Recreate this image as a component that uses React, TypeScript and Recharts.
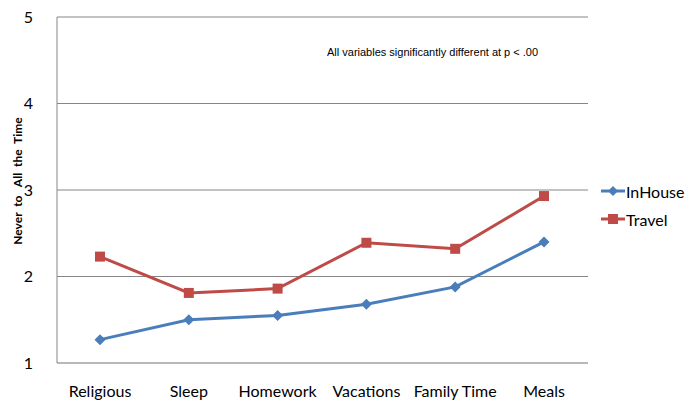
import { CartesianGrid, Label, Line, LineChart, XAxis, YAxis } from "recharts";

const categories = ["Religious", "Sleep", "Homework", "Vacations", "Family Time", "Meals"];
const inHouse = [1.27, 1.5, 1.55, 1.68, 1.88, 2.4];
const travel = [2.23, 1.81, 1.86, 2.39, 2.32, 2.93];
const yTicks = [1, 2, 3, 4, 5];

const BLUE = "#4a7ebb";
const RED = "#be4b48";

const data = categories.map((name, i) => ({ name, InHouse: inHouse[i], Travel: travel[i] }));

function Diamond(props: any) {
  const { cx, cy } = props;
  if (cx == null || cy == null) return null;
  return <path d={`M${cx},${cy - 5.5}L${cx + 5.5},${cy}L${cx},${cy + 5.5}L${cx - 5.5},${cy}Z`} fill={BLUE} />;
}

function Square(props: any) {
  const { cx, cy } = props;
  if (cx == null || cy == null) return null;
  return <rect x={cx - 5} y={cy - 5} width={10} height={10} fill={RED} />;
}

function LegendBox() {
  const items = [
    { name: "InHouse", color: BLUE, shape: "diamond" },
    { name: "Travel", color: RED, shape: "square" }
  ];
  return (
    <div style={{ fontFamily: "Lato, sans-serif", fontSize: 16, color: "#000" }}>
      {items.map((it) => (
        <div key={it.name} style={{ display: "flex", alignItems: "center", height: 28 }}>
          <svg width={24} height={14} style={{ marginRight: 1 }}>
            <line x1={0} y1={7} x2={24} y2={7} stroke={it.color} strokeWidth={3} />
            {it.shape === "diamond" ? (
              <path d="M12,2L17,7L12,12L7,7Z" fill={it.color} />
            ) : (
              <rect x={7} y={2} width={10} height={10} fill={it.color} />
            )}
          </svg>
          <span>{it.name}</span>
        </div>
      ))}
    </div>
  );
}

export default function App() {
  return (
    <div style={{ position: "absolute", left: 0, top: 0, width: 686, height: 400, background: "#fff" }}>
      <LineChart width={686} height={400} data={data} margin={{ top: 17, right: 98, left: 0, bottom: 0 }}>
        <CartesianGrid vertical={false} stroke="#868686" strokeWidth={1} />
        <XAxis
          dataKey="name"
          height={37}
          tickLine={false}
          axisLine={{ stroke: "#b8b8b8", strokeWidth: 2 }}
          tick={{ fontFamily: "Lato, sans-serif", fontSize: 16, fill: "#000" }}
          tickMargin={17}
          interval={0}
          padding={{ left: 43, right: 44 }}
        />
        <YAxis
          width={57}
          domain={[1, 5]}
          ticks={yTicks}
          tickLine={false}
          axisLine={{ stroke: "#868686" }}
          tick={{ fontFamily: "Lato, sans-serif", fontSize: 16, fill: "#000" }}
          tickMargin={18}
        >
          <Label
            content={() => (
              <text
                x={17}
                y={181}
                transform="rotate(-90 17 181)"
                textAnchor="middle"
                dominantBaseline="central"
                style={{ fontFamily: "Lato, sans-serif", fontSize: 12, fontWeight: 700, whiteSpace: "pre" }}
                fill="#000"
              >
                {"Never  to   All  the  Time"}
              </text>
            )}
          />
        </YAxis>
        <Line
          dataKey="InHouse"
          stroke={BLUE}
          strokeWidth={3}
          dot={<Diamond />}
          activeDot={false}
          isAnimationActive={false}
        />
        <Line
          dataKey="Travel"
          stroke={RED}
          strokeWidth={3}
          dot={<Square />}
          activeDot={false}
          isAnimationActive={false}
        />
      </LineChart>
      <div style={{ position: "absolute", left: 601, top: 177 }}>
        <LegendBox />
      </div>
      <div
        style={{
          position: "absolute",
          left: 327,
          top: 46,
          fontFamily: "'Liberation Sans', Arial, sans-serif",
          fontSize: 11,
          color: "#000",
          whiteSpace: "nowrap"
        }}
      >
        All variables significantly different at p &lt; .00
      </div>
    </div>
  );
}
